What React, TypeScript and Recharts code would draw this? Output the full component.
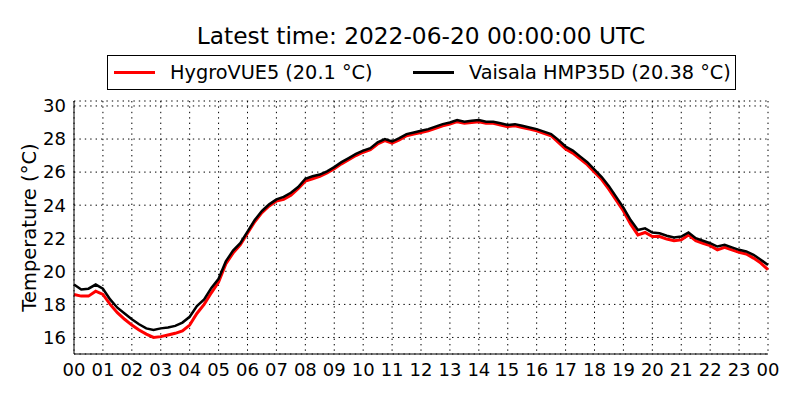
import React from "react";
import { LineChart, Line, XAxis, YAxis, CartesianGrid, Legend } from "recharts";

// 15-minute samples from 00:00 to 24:00 UTC
const STEP_HOURS = 0.25;

const hygroVue = [
  18.6, 18.5, 18.5, 18.8, 18.6, 18.0, 17.5, 17.1, 16.75, 16.45, 16.2, 16.0,
  16.05, 16.15, 16.25, 16.4, 16.75, 17.45, 18.0, 18.7, 19.35, 20.45, 21.1, 21.6,
  22.3, 23.0, 23.55, 23.95, 24.25, 24.35, 24.6, 25.0, 25.45, 25.6, 25.75, 25.95,
  26.2, 26.5, 26.75, 27.0, 27.2, 27.35, 27.7, 27.9, 27.75, 27.95, 28.2, 28.3,
  28.4, 28.5, 28.65, 28.8, 28.9, 29.05, 28.95, 29.0, 29.05, 28.95, 28.95, 28.85,
  28.75, 28.8, 28.7, 28.6, 28.5, 28.35, 28.2, 27.8, 27.4, 27.15, 26.8, 26.45,
  26.0, 25.55, 24.95, 24.3, 23.65, 22.85, 22.2, 22.35, 22.1, 22.1, 21.95, 21.85,
  21.9, 22.2, 21.85, 21.7, 21.55, 21.3, 21.45, 21.3, 21.15, 21.05, 20.8, 20.5,
  20.1,
];

const vaisala = [
  19.2, 18.9, 18.95, 19.2, 18.95, 18.3, 17.8, 17.45, 17.1, 16.8, 16.55, 16.45,
  16.55, 16.6, 16.7, 16.9, 17.25, 17.9, 18.3, 19.0, 19.55, 20.6, 21.25, 21.7,
  22.4, 23.1, 23.65, 24.05, 24.35, 24.5, 24.75, 25.1, 25.6, 25.75, 25.85, 26.05,
  26.3, 26.6, 26.85, 27.1, 27.3, 27.45, 27.8, 28.0, 27.85, 28.05, 28.3, 28.4,
  28.5, 28.6, 28.75, 28.9, 29.0, 29.15, 29.05, 29.1, 29.15, 29.05, 29.05, 28.95,
  28.85, 28.9, 28.8, 28.7, 28.6, 28.45, 28.3, 27.95, 27.55, 27.3, 26.95, 26.6,
  26.15, 25.7, 25.15, 24.5, 23.85, 23.1, 22.5, 22.6, 22.35, 22.3, 22.15, 22.05,
  22.1, 22.35, 22.0, 21.85, 21.7, 21.5, 21.6, 21.45, 21.3, 21.2, 21.0, 20.7,
  20.38,
];

const hourTicks = [0, 1, 2, 3, 4, 5, 6, 7, 8, 9, 10, 11, 12, 13, 14, 15, 16, 17, 18, 19, 20, 21, 22, 23, 24];
const tempTicks = [16, 18, 20, 22, 24, 26, 28, 30];

const data = vaisala.map((v, i) => ({
  h: i * STEP_HOURS,
  hygro: hygroVue[i],
  vaisala: v,
}));

const FONT = "'DejaVu Sans', sans-serif";

const fmtHour = (h: number) => String(h % 24).padStart(2, "0");

const LegendBox = (props: any) => {
  const items = props.payload || [];
  const lefts = [6, 305];
  return (
    <div
      style={{
        position: "relative",
        width: 629,
        height: 35,
        border: "1px solid #000",
        background: "#fff",
        boxSizing: "border-box",
        fontFamily: FONT,
        fontSize: 19.3,
      }}
    >
      {items.map((it: any, i: number) => (
        <div
          key={it.value}
          style={{ position: "absolute", left: lefts[i], top: 0, height: 33, display: "flex", alignItems: "center" }}
        >
          <span style={{ display: "inline-block", width: 41, height: 3, background: it.color, marginRight: 15 }} />
          <span style={{ whiteSpace: "nowrap" }}>{it.value}</span>
        </div>
      ))}
    </div>
  );
};

export default function App() {
  return (
    <div style={{ position: "absolute", left: 0, top: 0, width: 800, height: 400, background: "#fff" }}>
      <div
        style={{
          position: "absolute",
          left: 74,
          width: 694,
          top: 21,
          textAlign: "center",
          fontFamily: FONT,
          fontSize: 23.3,
          lineHeight: "30px",
        }}
      >
        Latest time: 2022-06-20 00:00:00 UTC
      </div>
      <LineChart
        width={800}
        height={400}
        data={data}
        margin={{ top: 101, right: 32, bottom: 0, left: 0 }}
        style={{ fontFamily: FONT }}
      >
        <CartesianGrid stroke="#000" strokeDasharray="1.4 4" strokeWidth={1} />
        <XAxis
          dataKey="h"
          type="number"
          domain={[0, 24]}
          ticks={hourTicks}
          tickFormatter={fmtHour}
          interval={0}
          height={46}
          tickLine={false}
          tickMargin={3}
          axisLine={{ stroke: "#000", strokeWidth: 1 }}
          tick={{ fill: "#000", fontSize: 18 }}
        />
        <XAxis xAxisId="top" orientation="top" height={0} tick={false} tickLine={false} axisLine={{ stroke: "#000" }} />
        <YAxis
          type="number"
          domain={[15, 30.3]}
          ticks={tempTicks}
          width={74}
          tickLine={false}
          tickMargin={2}
          axisLine={{ stroke: "#000", strokeWidth: 1 }}
          tick={{ fill: "#000", fontSize: 18 }}
          label={{
            content: (p: any) => {
              const vb = p.viewBox || {};
              const cx = 29;
              const cy = (vb.y ?? 101) + (vb.height ?? 253) / 2;
              return (
                <text
                  x={cx}
                  y={cy}
                  transform={`rotate(-90, ${cx}, ${cy})`}
                  textAnchor="middle"
                  dominantBaseline="central"
                  fontSize={19.5}
                  fontFamily={FONT}
                  fill="#000"
                >
                  Temperature (°C)
                </text>
              );
            },
          }}
        />
        <YAxis yAxisId="right" orientation="right" width={0} tick={false} tickLine={false} axisLine={{ stroke: "#000" }} />
        <Legend
          layout="horizontal"
          verticalAlign="middle"
          align="center"
          wrapperStyle={{ top: 55, left: 107, width: 629 }}
          content={<LegendBox />}
        />
        <Line
          name="HygroVUE5 (20.1 °C)"
          dataKey="hygro"
          stroke="#ff0000"
          strokeWidth={3}
          dot={false}
          isAnimationActive={false}
        />
        <Line
          name="Vaisala HMP35D (20.38 °C)"
          dataKey="vaisala"
          stroke="#000000"
          strokeWidth={2.5}
          dot={false}
          isAnimationActive={false}
        />
      </LineChart>
    </div>
  );
}
